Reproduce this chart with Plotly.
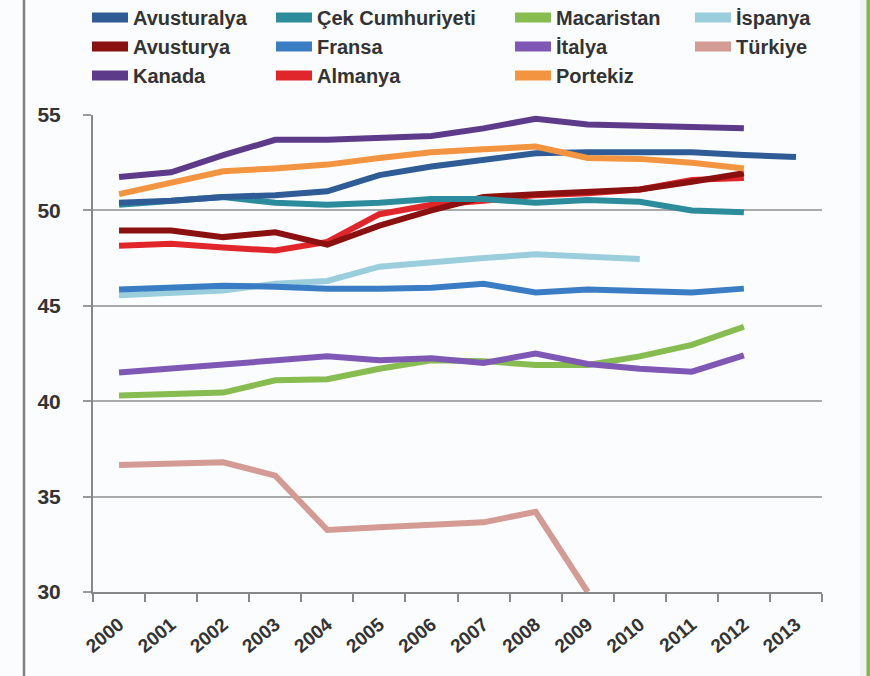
import plotly.graph_objects as go

years = [str(y) for y in range(2000, 2014)]
y_ticks = [30, 35, 40, 45, 50, 55]

avusturalya = [50.4, 50.5, 50.7, 50.8, 51.0, 51.85, 52.3, 52.65, 53.0, 53.05, 53.05, 53.05, 52.9, 52.8]
cek = [50.3, 50.5, 50.7, 50.4, 50.3, 50.4, 50.6, 50.6, 50.4, 50.55, 50.45, 50.0, 49.9, None]
macaristan = [40.3, 40.4, 40.45, 41.1, 41.15, 41.7, 42.15, 42.1, 41.9, 41.9, 42.35, 42.95, 43.9, None]
ispanya = [45.55, 45.65, 45.8, 46.15, 46.3, 47.05, 47.3, 47.5, 47.7, 47.55, 47.45, None, None, None]
avusturya = [48.95, 48.95, 48.6, 48.85, 48.2, 49.2, 50.0, 50.7, 50.85, 50.95, 51.1, 51.5, 51.95, None]
fransa = [45.85, 45.95, 46.05, 46.0, 45.9, 45.9, 45.95, 46.15, 45.7, 45.85, 45.8, 45.7, 45.9, None]
italya = [41.5, 41.7, 41.95, 42.15, 42.35, 42.15, 42.25, 42.0, 42.5, 41.95, 41.7, 41.55, 42.4, None]
turkiye = [36.65, 36.7, 36.8, 36.1, 33.25, 33.4, 33.5, 33.65, 34.2, 30.0, None, None, None, None]
kanada = [51.75, 52.0, 52.9, 53.7, 53.7, 53.8, 53.9, 54.3, 54.8, 54.5, 54.45, 54.4, 54.3, None]
almanya = [48.15, 48.25, 48.05, 47.9, 48.35, 49.8, 50.3, 50.5, 50.8, 50.9, 51.1, 51.6, 51.7, None]
portekiz = [50.85, 51.45, 52.05, 52.2, 52.4, 52.75, 53.05, 53.2, 53.35, 52.75, 52.7, 52.5, 52.2, None]

series = [
    ("Avusturalya", avusturalya, "#2F5C96", "legend"),
    ("Avusturya", avusturya, "#8B1010", "legend"),
    ("Kanada", kanada, "#5E3B8A", "legend"),
    ("Çek Cumhuriyeti", cek, "#2D8C9C", "legend2"),
    ("Fransa", fransa, "#3A7DC4", "legend2"),
    ("Almanya", almanya, "#E0262A", "legend2"),
    ("Macaristan", macaristan, "#86BC50", "legend3"),
    ("İtalya", italya, "#7F57B5", "legend3"),
    ("Portekiz", portekiz, "#F39440", "legend3"),
    ("İspanya", ispanya, "#9ACEDD", "legend4"),
    ("Türkiye", turkiye, "#D49A94", "legend4"),
]

draw_order = ["Türkiye", "Macaristan", "İtalya", "İspanya", "Fransa", "Almanya", "Avusturya",
              "Çek Cumhuriyeti", "Avusturalya", "Portekiz", "Kanada"]
by_name = {s[0]: s for s in series}

fig = go.Figure()
for name in draw_order:
    _, vals, col, _ = by_name[name]
    fig.add_trace(go.Scatter(x=years, y=vals, mode="lines", name=name,
                             line=dict(color=col, width=6), showlegend=False))

for name, vals, col, lg in series:
    fig.add_trace(go.Scatter(x=[None], y=[None], mode="lines", name=name,
                             line=dict(color=col, width=13), legend=lg, showlegend=True))

# the page body margin is removed in post_script, so figure pixels == screen pixels
FW, FH = 870, 676
L, T, R, B = 93, 115, 822, 592
W = R - L
H = B - T

def lx(px):
    return (px - L) / W

def ly(py):
    return (B - py) / H

legend_font = dict(family="Liberation Sans, Arial", size=20, color="#333333", weight="bold")
common = dict(orientation="v", font=legend_font, bgcolor="rgba(0,0,0,0)", yanchor="top",
              xanchor="left", itemwidth=36, tracegroupgap=0)
LEG_TOP = -2
fig.update_layout(
    legend=dict(x=lx(87), y=ly(LEG_TOP), **common),
    legend2=dict(x=lx(271), y=ly(LEG_TOP), **common),
    legend3=dict(x=lx(510), y=ly(LEG_TOP), **common),
    legend4=dict(x=lx(690), y=ly(LEG_TOP), **common),
)

tick_font = dict(family="Liberation Sans, Arial", color="#333333", weight="bold")
fig.update_layout(
    width=FW, height=FH,
    margin=dict(l=L, r=FW - R, t=T, b=FH - B, autoexpand=False),
    paper_bgcolor="#FBFCFD",
    plot_bgcolor="#FBFCFD",
    xaxis=dict(type="category", categoryorder="array", categoryarray=years,
               range=[-0.5, 13.5], tickson="boundaries", ticks="outside", ticklen=8,
               tickcolor="#888888", tickwidth=2, showline=True, linecolor="#888888", linewidth=2,
               showgrid=False, tickangle=-40, zeroline=False, ticklabelstandoff=12,
               tickfont=dict(size=19, **tick_font)),
    yaxis=dict(range=[30, 55], tickvals=y_ticks, ticks="outside", ticklen=8,
               tickcolor="#999999", tickwidth=2, showline=True, linecolor="#888888", linewidth=2,
               showgrid=True, gridcolor="#AAAAAA", gridwidth=2, zeroline=False,
               ticklabelstandoff=18,
               tickfont=dict(size=21, **tick_font)),
    shapes=[
        dict(type="line", xref="paper", yref="paper", x0=lx(24), x1=lx(24), y0=ly(-10), y1=ly(700),
             line=dict(color="#808080", width=2.5)),
        dict(type="rect", xref="paper", yref="paper", x0=lx(860), x1=lx(866.5), y0=ly(-10), y1=ly(700),
             fillcolor="#F1F2F3", line=dict(width=0)),
        dict(type="line", xref="paper", yref="paper", x0=lx(868.5), x1=lx(868.5), y0=ly(-10), y1=ly(700),
             line=dict(color="#7DB84A", width=4)),
    ],
)

fig.write_html(
    "out.html",
    config={"displayModeBar": False},
    post_script="document.body.style.margin='0px'; document.body.style.overflow='hidden';",
)
